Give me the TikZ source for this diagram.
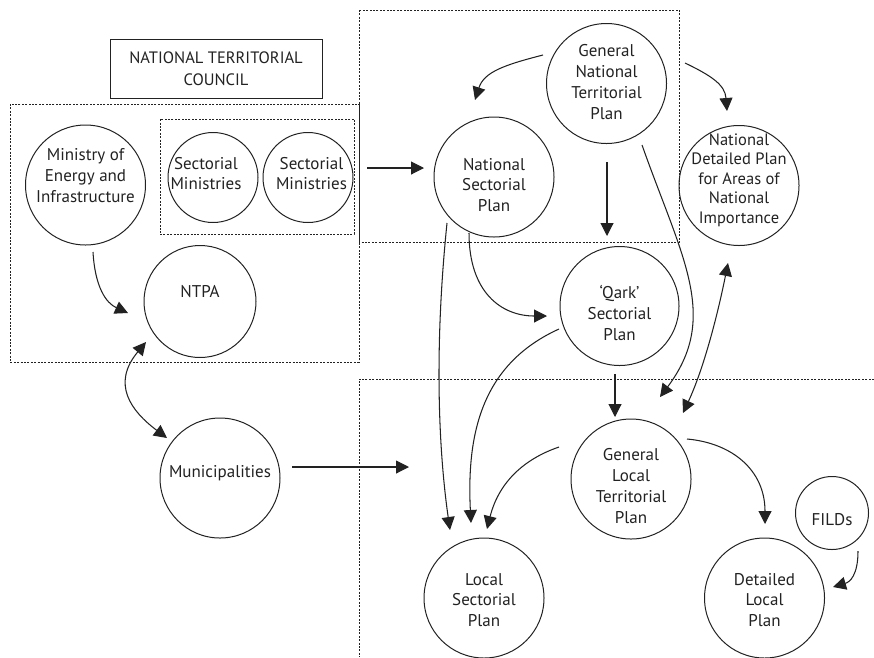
\documentclass[tikz,border=0pt]{standalone}
\usepackage{fontspec}
\setmainfont{PT Sans}
\usetikzlibrary{arrows.meta,calc}
\definecolor{ink}{HTML}{222222}
\begin{document}
\begin{tikzpicture}[x=1pt,y=-1pt,
  txt/.style={font=\fontsize{17}{20.8}\selectfont, text=ink, align=center, inner sep=0pt},
  circ/.style={circle, draw=ink, line width=1pt, inner sep=0pt},
  dotbox/.style={draw=ink, line width=0.9pt, dash pattern=on 2pt off 1.4pt},
  tip/.style={Triangle[length=13pt,width=13pt]},
  arr/.style={draw=ink, line width=1.05pt, -{Triangle[length=13pt,width=13pt]}},
  darr/.style={draw=ink, line width=1.05pt, {Triangle[length=13pt,width=13pt]}-{Triangle[length=13pt,width=13pt]}}
]
\useasboundingbox (0,0) rectangle (874,657);

% regions
\draw[dotbox] (10,104) rectangle (359,362);
\draw[dotbox] (359,10) rectangle (679,242);
\draw[dotbox] (874,379) -- (359,379) -- (359,657);
\node[dotbox, minimum width=194pt, minimum height=115pt, inner sep=0pt] (inner) at (257,176.5) {};

% title
\node[draw=ink, line width=1pt, minimum width=212pt, minimum height=59pt, txt, font=\fontsize{16.5}{22}\selectfont, text depth=0pt] (ntc) at (216,68.5) {NATIONAL TERRITORIAL\\COUNCIL};

% circles
\node[circ, minimum size=120pt, label={[txt,yshift=9.5pt]center:Ministry of\\Energy and\\Infrastructure}] (min) at (85.5,185) {};
\node[circ, minimum size=90pt, label={[txt,xshift=-7pt,yshift=4pt]center:Sectorial\\Ministries}] (sm1) at (213,177.5) {};
\node[circ, minimum size=90pt, label={[txt,xshift=3.5pt,yshift=4pt]center:Sectorial\\Ministries}] (sm2) at (308,177.5) {};
\node[circ, minimum size=112pt, label={[txt,yshift=9.5pt]center:NTPA}] (ntpa) at (200,301.5) {};
\node[circ, minimum size=120pt, label={[txt,yshift=5pt]center:Municipalities}] (mun) at (220,478) {};
\node[circ, minimum size=120pt, label={[txt,yshift=1.5pt]center:General\\National\\Territorial\\Plan}] (gntp) at (606.5,83.5) {};
\node[circ, minimum size=120pt, label={[txt,yshift=-8pt]center:National\\Sectorial\\Plan}] (nsp) at (494,177) {};
\node[circ, minimum size=120pt, label={[txt,yshift=5.5pt,font=\fontsize{16.5}{19.6}\selectfont]center:National\\Detailed Plan\\for Areas of\\National\\Importance}] (ndp) at (739,185.5) {};
\node[circ, minimum size=119pt, label={[txt,yshift=-7pt]center:‘Qark’\\Sectorial\\Plan}] (qark) at (619.5,306) {};
\node[circ, minimum size=120pt, label={[txt,yshift=-7pt]center:General\\Local\\Territorial\\Plan}] (gltp) at (631,479) {};
\node[circ, minimum size=120pt, label={[txt,yshift=-2pt]center:Local\\Sectorial\\Plan}] (lsp) at (484,598) {};
\node[circ, minimum size=120pt, label={[txt,yshift=-2pt]center:Detailed\\Local\\Plan}] (dlp) at (764.5,598) {};
\node[circ, minimum size=73pt, label={[txt,yshift=-7pt]center:FILDs}] (filds) at (832,513) {};

\coordinate (munend) at (409,467);

% connectors
\draw[arr] ($(inner.east)+(13,-8.5)$) -- ($(nsp)+(-70,-9)$);
\draw[arr] ($(min)+(7.5,67)$) .. controls (95,287) and (106,303) .. ($(ntpa)+(-72,11.5)$);
\draw[darr] ($(ntpa)+(-54,40.5)$) .. controls (111,384) and (131,411) .. ($(mun)+(-53,-40)$);
\draw[arr] ($(mun)+(72,-11)$) -- (munend);
\draw[arr] ($(gntp)+(-63.5,-28.5)$) .. controls (504,65) and (484,72) .. ($(nsp)+(-19,-77)$);
\draw[arr] ($(gntp)+(78.5,-20.5)$) .. controls (712,76) and (725,85) .. ($(ndp)+(-12,-74.5)$);
\draw[arr] ($(gntp)+(0.5,78.5)$) -- ($(qark)+(-12.5,-70)$);
\draw[arr] ($(gntp)+(35.5,61.5)$) .. controls (682,258) and (720,317) .. ($(gltp)+(29,-82)$);
\draw[darr] ($(ndp)+(-11,77.5)$) .. controls (718,313) and (704,368) .. ($(gltp)+(52,-66)$);
\draw[arr] ($(nsp)+(-47,46)$) .. controls (433,360) and (440,460) .. ($(lsp)+(-34,-68)$);
\draw[arr] ($(nsp)+(-25,56)$) .. controls (469,293) and (502,316) .. ($(qark)+(-72.5,10)$);
\draw[arr] ($(qark)+(-60.5,23)$) .. controls (482,364) and (466.5,433) .. ($(lsp)+(-13,-75)$);
\draw[arr] ($(qark)+(-4.5,68)$) -- ($(gltp)+(-16,-62)$);
\draw[arr] ($(gltp)+(-72,-32)$) .. controls (521,460) and (498,485) .. ($(lsp)+(3,-69)$);
\draw[arr] ($(gltp)+(56,-40)$) .. controls (732,443) and (765,470) .. ($(dlp)+(0.5,-74)$);
\draw[arr] ($(filds)+(26,38)$) .. controls (858,575) and (850,582) .. ($(dlp)+(68.5,-11)$);
\end{tikzpicture}
\end{document}
